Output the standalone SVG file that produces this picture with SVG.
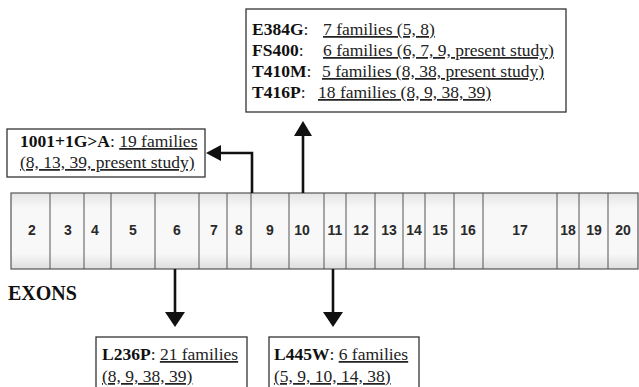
<svg xmlns="http://www.w3.org/2000/svg" width="639" height="387" viewBox="0 0 639 387">
<style>
.box{fill:#fff;stroke:#333;stroke-width:1.3}
.t{font-family:"Liberation Serif","Times New Roman",serif;font-size:17.5px;fill:#222}
.b{font-weight:bold;fill:#111}
.u{text-decoration:underline}
.ex{font-family:"Liberation Sans",Arial,sans-serif;font-size:14px;font-weight:bold;fill:#2a2a2a;text-anchor:middle}
.dv{stroke:#555;stroke-width:1}
.ar{fill:none;stroke:#111;stroke-width:2.6}
.hd{fill:#111}
</style>
<defs>
<linearGradient id="bg" x1="0" y1="0" x2="0" y2="1">
<stop offset="0" stop-color="#e4e4e4"/>
<stop offset="0.2" stop-color="#f8f8f8"/>
<stop offset="0.8" stop-color="#f8f8f8"/>
<stop offset="1" stop-color="#dedede"/>
</linearGradient>
</defs>
<rect width="639" height="387" fill="#fff"/>

<g id="exons">
<rect x="11" y="193" width="627" height="76" fill="url(#bg)" stroke="#555" stroke-width="1.2"/>
<g class="dv">
<line x1="50" y1="193" x2="50" y2="269"/>
<line x1="84" y1="193" x2="84" y2="269"/>
<line x1="111" y1="193" x2="111" y2="269"/>
<line x1="155" y1="193" x2="155" y2="269"/>
<line x1="199" y1="193" x2="199" y2="269"/>
<line x1="227" y1="193" x2="227" y2="269"/>
<line x1="251" y1="193" x2="251" y2="269"/>
<line x1="289" y1="193" x2="289" y2="269"/>
<line x1="324" y1="193" x2="324" y2="269"/>
<line x1="346" y1="193" x2="346" y2="269"/>
<line x1="375" y1="193" x2="375" y2="269"/>
<line x1="403" y1="193" x2="403" y2="269"/>
<line x1="425" y1="193" x2="425" y2="269"/>
<line x1="454" y1="193" x2="454" y2="269"/>
<line x1="483" y1="193" x2="483" y2="269"/>
<line x1="557" y1="193" x2="557" y2="269"/>
<line x1="579" y1="193" x2="579" y2="269"/>
<line x1="608" y1="193" x2="608" y2="269"/>
</g>
<text class="ex" x="32" y="235">2</text>
<text class="ex" x="68" y="235">3</text>
<text class="ex" x="95" y="235">4</text>
<text class="ex" x="133" y="235">5</text>
<text class="ex" x="177" y="235">6</text>
<text class="ex" x="214" y="235">7</text>
<text class="ex" x="239" y="235">8</text>
<text class="ex" x="270" y="235">9</text>
<text class="ex" x="302" y="235">10</text>
<text class="ex" x="335" y="235">11</text>
<text class="ex" x="361" y="235">12</text>
<text class="ex" x="389" y="235">13</text>
<text class="ex" x="414" y="235">14</text>
<text class="ex" x="440" y="235">15</text>
<text class="ex" x="468" y="235">16</text>
<text class="ex" x="520" y="235">17</text>
<text class="ex" x="568" y="235">18</text>
<text class="ex" x="594" y="235">19</text>
<text class="ex" x="623" y="235">20</text>
<text class="t b" x="8" y="300" style="font-size:20px">EXONS</text>
</g>

<g id="connectors">
<line class="ar" x1="303" y1="193" x2="303" y2="134"/>
<polygon class="hd" points="303,121 294,136 312,136"/>
<polyline class="ar" points="252,193 252,153 218,153"/>
<polygon class="hd" points="206,153 221,145 221,161"/>
<line class="ar" x1="175" y1="269" x2="175" y2="314"/>
<polygon class="hd" points="175,327 165,312 185,312"/>
<line class="ar" x1="333" y1="269" x2="333" y2="314"/>
<polygon class="hd" points="333,327 323,312 343,312"/>
</g>

<g id="top-box">
<rect class="box" x="246" y="9" width="320" height="103"/>
<text class="t" x="252" y="35"><tspan class="b">E384G</tspan>:</text>
<text class="t u" x="323" y="35">7 families (5, 8)</text>
<text class="t" x="252" y="56"><tspan class="b">FS400</tspan>:</text>
<text class="t u" x="323" y="56">6 families (6, 7, 9, present study)</text>
<text class="t" x="252" y="77"><tspan class="b">T410M</tspan>:</text>
<text class="t u" x="322" y="77">5 families (8, 38, present study)</text>
<text class="t" x="252" y="98"><tspan class="b">T416P</tspan>:</text>
<text class="t u" x="318" y="98">18 families (8, 9, 38, 39)</text>
</g>

<g id="left-box">
<rect class="box" x="7" y="129" width="198" height="48"/>
<text class="t" x="20" y="147"><tspan class="b">1001+1G&gt;A</tspan>: <tspan class="u">19 families</tspan></text>
<text class="t u" x="20" y="168">(8, 13, 39, present study)</text>
</g>

<g id="l236p-box">
<rect class="box" x="96" y="337" width="151" height="70"/>
<text class="t" x="102" y="360"><tspan class="b">L236P</tspan>: <tspan class="u">21 families</tspan></text>
<text class="t u" x="102" y="382">(8, 9, 38, 39)</text>
</g>

<g id="l445w-box">
<rect class="box" x="269" y="337" width="150" height="70"/>
<text class="t" x="274" y="360"><tspan class="b">L445W</tspan>:  <tspan class="u">6 families</tspan></text>
<text class="t u" x="274" y="382">(5, 9, 10, 14, 38)</text>
</g>
</svg>
